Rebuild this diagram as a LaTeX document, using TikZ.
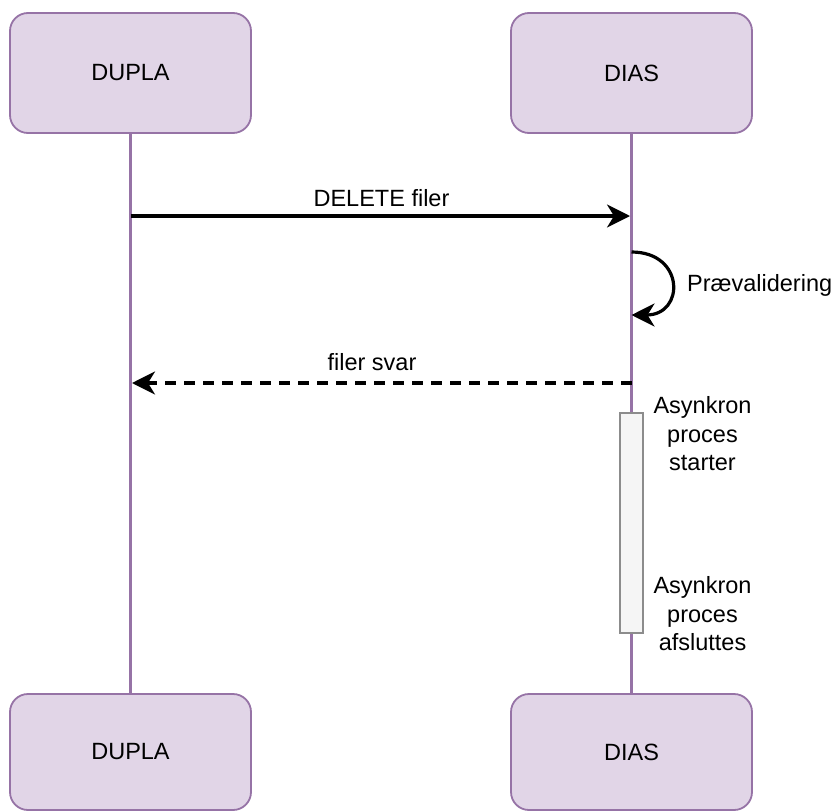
\documentclass[tikz,border=0pt]{standalone}
\usepackage{fontspec}
\setmainfont{Liberation Sans}
\usetikzlibrary{arrows.meta}
\definecolor{boxfill}{HTML}{E1D5E7}
\definecolor{boxline}{HTML}{9673A6}
\definecolor{actfill}{HTML}{F5F5F5}
\definecolor{actline}{HTML}{8C8C8C}
\tikzset{
  actor/.style={draw=boxline, fill=boxfill, line width=1.8pt, rounded corners=18pt,
    minimum width=241pt, minimum height=120pt, inner sep=0pt,
    font=\fontsize{23.5pt}{28pt}\selectfont},
  lifeline/.style={draw=boxline, line width=3pt},
  msg/.style={draw=black, line width=3.2pt, -{Stealth[length=23pt,width=23pt,inset=7pt]}},
  lbl/.style={font=\fontsize{23.5pt}{28.5pt}\selectfont, inner sep=0pt, align=center},
  actbox/.style={draw=actline, fill=actfill, line width=1.6pt, minimum width=23pt,
    minimum height=220pt, inner sep=0pt},
}
\begin{document}
\begin{tikzpicture}[x=1pt,y=-1pt]
\useasboundingbox (0,0) rectangle (837,811);
% actors
\node[actor] (dupla) at (130.5,73) {DUPLA};
\node[actor] (dias) at (631.5,73) {DIAS};
\node[actor, minimum height=116pt] (dupla2) at (130.5,752) {DUPLA};
\node[actor, minimum height=116pt] (dias2) at (631.5,752) {DIAS};
% lifelines
\draw[lifeline] (dupla.south) -- (dupla2.north);
\draw[lifeline] (dias.south) -- (dias2.north);
% activation
\node[actbox] (act) at (631.5,523) {};
% coordinates on lifelines
\coordinate (m1s) at (130.5,216);
\coordinate (m1e) at (630,216);
\coordinate (l1s) at (631.5,252);
\coordinate (l1e) at (631.5,315);
\coordinate (m2s) at (631.5,383);
\coordinate (m2e) at (132,383);
% messages
\draw[msg] (m1s) -- (m1e);
\node[lbl] (t1) at (381.5,198) {DELETE filer};
\draw[msg] (l1s) .. controls (685,252) and (685,315) .. (l1e);
\node[lbl, anchor=west] (t2) at (687,285) {Prævalidering};
\draw[msg, dash pattern=on 11pt off 8pt] (m2s) -- (m2e);
\node[lbl] (t3) at (372,362) {filer svar};
\node[lbl] (t4) at (702.5,434) {Asynkron\\proces\\starter};
\node[lbl] (t5) at (702.5,614) {Asynkron\\proces\\afsluttes};
\end{tikzpicture}
\end{document}
